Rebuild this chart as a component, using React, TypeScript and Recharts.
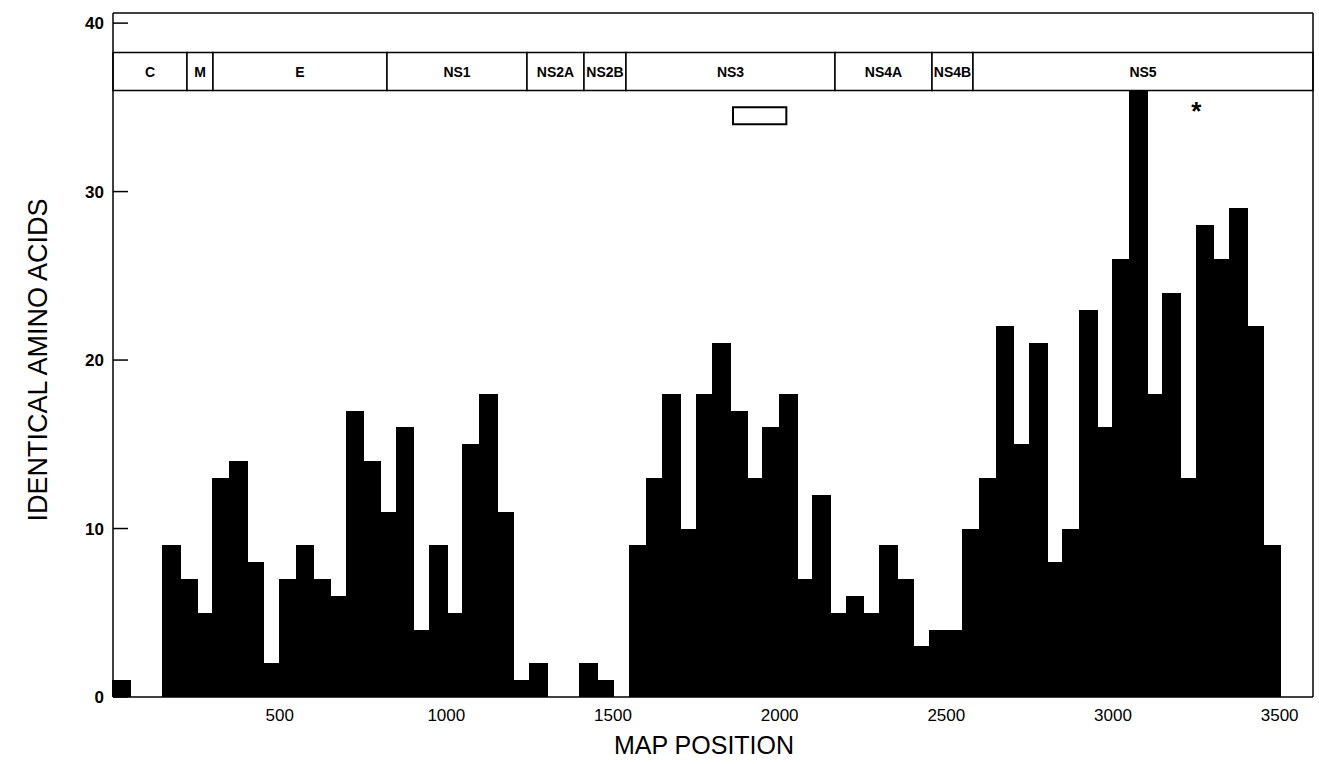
import {
  ComposedChart,
  Bar,
  XAxis,
  YAxis,
  ReferenceArea,
  ReferenceDot,
} from "recharts";

// 50-residue windows along the polyprotein
const binStarts = [
  0, 50, 100, 150, 200, 250, 300, 350, 400, 450,
  500, 550, 600, 650, 700, 750, 800, 850, 900, 950,
  1000, 1050, 1100, 1150, 1200, 1250, 1300, 1350, 1400, 1450,
  1500, 1550, 1600, 1650, 1700, 1750, 1800, 1850, 1900, 1950,
  2000, 2050, 2100, 2150, 2200, 2250, 2300, 2350, 2400, 2450,
  2500, 2550, 2600, 2650, 2700, 2750, 2800, 2850, 2900, 2950,
  3000, 3050, 3100, 3150, 3200, 3250, 3300, 3350, 3400, 3450,
];
const identical = [
  1, 0, 0, 9, 7, 5, 13, 14, 8, 2,
  7, 9, 7, 6, 17, 14, 11, 16, 4, 9,
  5, 15, 18, 11, 1, 2, 0, 0, 2, 1,
  0, 9, 13, 18, 10, 18, 21, 17, 13, 16,
  18, 7, 12, 5, 6, 5, 9, 7, 3, 4,
  4, 10, 13, 22, 15, 21, 8, 10, 23, 16,
  26, 38, 18, 24, 13, 28, 26, 29, 22, 9,
];
const binWidth = 50;

// gene map along the top
const geneNames = ["C", "M", "E", "NS1", "NS2A", "NS2B", "NS3", "NS4A", "NS4B", "NS5"];
const geneStart = [0, 222, 300, 822, 1242, 1413, 1539, 2166, 2457, 2580];
const geneEnd = [222, 300, 822, 1242, 1413, 1539, 2166, 2457, 2580, 3600];
const geneBand = [36.0, 38.25];

// small open box under NS3 and the asterisk in NS5
const boxX = [1860, 2020];
const boxY = [34, 35];
const starPos = [3250, 34.8];

const xTicks = [500, 1000, 1500, 2000, 2500, 3000, 3500];
const yTicks = [0, 10, 20, 30, 40];
const yTicksRight = [10, 20, 30];

const W = 1319;
const H = 764;
const plotW = 1200;
const xMax = 3600;
const binPx = (plotW * binWidth) / xMax;

const data = binStarts.map((s, i) => ({ mid: s + binWidth / 2, count: identical[i] }));

const FONT = "'Liberation Sans', Arial, Helvetica, sans-serif";

// solid histogram bars: widen each bar to the full bin so neighbours touch
const HistBar = (props: any) => {
  const { x, y, width, height } = props;
  if (!height || height <= 0) return null;
  const cx = x + width / 2;
  return (
    <rect
      x={cx - binPx / 2 - 1}
      y={y}
      width={binPx + 2}
      height={height}
      fill="#000"
      shapeRendering="crispEdges"
    />
  );
};

const LeftTick = ({ x, y, payload }: any) => (
  <g>
    <line x1={x} x2={x + 15} y1={y} y2={y} stroke="#000" strokeWidth={1.5} />
    <text x={x - 9} y={y + 6} textAnchor="end" fontSize={17} fontWeight="bold" fontFamily={FONT} fill="#000">
      {payload.value}
    </text>
  </g>
);

const RightTick = ({ x, y }: any) => (
  <line x1={x} x2={x - 17} y1={y} y2={y} stroke="#000" strokeWidth={1.5} />
);

const TopTick = ({ x, y }: any) => (
  <line x1={x} x2={x} y1={y} y2={y + 13} stroke="#000" strokeWidth={1.5} />
);

const BottomTick = ({ x, y, payload }: any) => (
  <text x={x} y={y + 24} textAnchor="middle" fontSize={17} fontFamily={FONT} fill="#000">
    {payload.value}
  </text>
);

const YTitle = ({ viewBox }: any) => {
  const cx = viewBox.x + 38;
  const cy = viewBox.y + viewBox.height / 2 + 5;
  return (
    <text
      x={cx}
      y={cy}
      transform={`rotate(-90 ${cx} ${cy})`}
      textAnchor="middle"
      dominantBaseline="central"
      fontSize={27}
      fontFamily={FONT}
      fill="#000"
    >
      IDENTICAL AMINO ACIDS
    </text>
  );
};

const XTitle = ({ viewBox }: any) => (
  <text
    x={viewBox.x + viewBox.width / 2 - 9}
    y={viewBox.y + 57}
    textAnchor="middle"
    fontSize={25}
    fontFamily={FONT}
    fill="#000"
  >
    MAP POSITION
  </text>
);

export default function App() {
  return (
    <div style={{ position: "absolute", left: 0, top: 0, background: "#fff" }}>
      <ComposedChart width={W} height={H} data={data} margin={{ top: 0, right: 0, bottom: 0, left: 0 }}>
        <XAxis
          xAxisId="bottom"
          dataKey="mid"
          type="number"
          domain={[0, xMax]}
          ticks={xTicks}
          height={67}
          axisLine={{ stroke: "#000", strokeWidth: 1.5 }}
          tickLine={false}
          tickSize={0}
          tickMargin={0}
          tick={<BottomTick />}
          interval={0}
          label={{ content: <XTitle /> }}
        />
        <XAxis
          xAxisId="top"
          orientation="top"
          type="number"
          domain={[0, xMax]}
          ticks={xTicks}
          height={13}
          axisLine={{ stroke: "#000", strokeWidth: 1.5 }}
          tickLine={false}
          tickSize={0}
          tickMargin={0}
          tick={<TopTick />}
          interval={0}
        />
        <YAxis
          yAxisId="left"
          type="number"
          domain={[0, 40.6]}
          ticks={yTicks}
          width={113}
          allowDataOverflow
          axisLine={{ stroke: "#000", strokeWidth: 1.5 }}
          tickLine={false}
          tickSize={0}
          tickMargin={0}
          tick={<LeftTick />}
          interval={0}
          label={{ content: <YTitle /> }}
        />
        <YAxis
          yAxisId="right"
          orientation="right"
          type="number"
          domain={[0, 40.6]}
          ticks={yTicksRight}
          width={6}
          axisLine={{ stroke: "#000", strokeWidth: 1.5 }}
          tickLine={false}
          tickSize={0}
          tickMargin={0}
          tick={<RightTick />}
          interval={0}
        />
        <Bar
          xAxisId="bottom"
          yAxisId="left"
          dataKey="count"
          fill="#000"
          barSize={binPx}
          shape={<HistBar />}
          isAnimationActive={false}
        />
        {geneNames.map((g, i) => (
          <ReferenceArea
            key={g}
            xAxisId="bottom"
            yAxisId="left"
            x1={geneStart[i]}
            x2={geneEnd[i]}
            y1={geneBand[0]}
            y2={geneBand[1]}
            fill="#fff"
            fillOpacity={1}
            stroke="#000"
            strokeWidth={1.5}
            zIndex={450}
            ifOverflow="visible"
            label={{ value: g, position: "center", fontSize: 14, fontWeight: "bold", fill: "#000", fontFamily: FONT }}
          />
        ))}
        <ReferenceArea
          xAxisId="bottom"
          yAxisId="left"
          x1={boxX[0]}
          x2={boxX[1]}
          y1={boxY[0]}
          y2={boxY[1]}
          fill="#fff"
          fillOpacity={1}
          stroke="#000"
          strokeWidth={2}
          zIndex={450}
        />
        <ReferenceDot
          xAxisId="bottom"
          yAxisId="left"
          x={starPos[0]}
          y={starPos[1]}
          r={0}
          stroke="none"
          zIndex={450}
          label={{ value: "*", position: "center", fontSize: 26, fontWeight: "bold", fill: "#000", fontFamily: FONT }}
        />
      </ComposedChart>
    </div>
  );
}
